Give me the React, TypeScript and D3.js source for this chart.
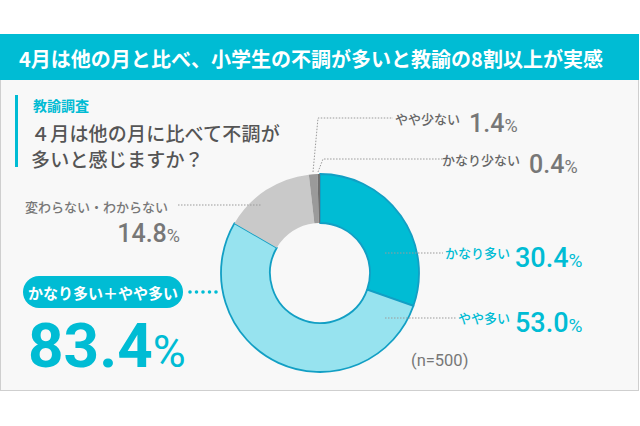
import React from "react";
import * as d3 from "d3";

const categories = ["かなり多い", "やや多い", "変わらない・わからない", "やや少ない", "かなり少ない"];
const values = [30.4, 53.0, 14.8, 1.4, 0.4];
const valueLabels = ["30.4", "53.0", "14.8", "1.4", "0.4"];
const sliceColors = ["#00bcd4", "#97e3ef", "#c9c9c9", "#9a9a9a", "#6e6e6e"];
const sliceStrokes = ["#129fc4", "#129fc4", "none", "none", "none"];
const title = "4月は他の月と比べ、小学生の不調が多いと教諭の8割以上が実感";
const subTitle = "教諭調査";
const questionLines = ["４月は他の月に比べて不調が", "多いと感じますか？"];
const combinedLabel = "かなり多い＋やや多い";
const combinedValue = "83.4";
const sampleNote = "(n=500)";

const JP = "'Noto Sans CJK JP', 'Noto Sans', sans-serif";
const NUM = "Roboto, 'Noto Sans', sans-serif";

export default function App() {
  const cx = 320, cy = 273, rOuter = 99, rInner = 50;
  const pie = d3.pie<number>().sort(null).startAngle(0).endAngle(2 * Math.PI)(values);
  const arc = d3.arc<d3.PieArcDatum<number>>().innerRadius(rInner).outerRadius(rOuter);

  const grayDot = { stroke: "#9a9a9a", strokeWidth: 1, strokeDasharray: "1.5 1.5", fill: "none" } as const;

  return (
    <svg width={640} height={426} style={{ position: "absolute", left: 0, top: 0, background: "#fff" }}>
      {/* frame */}
      <rect x={0.5} y={34.5} width={638} height={356} fill="#f8f8f8" stroke="#cfcfcf" strokeWidth={1} />
      <rect x={0} y={34} width={639} height={46} fill="#00bcd4" />
      <text x={19} y={57.5} dominantBaseline="central" fill="#fff" fontFamily={JP} fontWeight={700} fontSize={20.5} textLength={584} lengthAdjust="spacingAndGlyphs">{title}</text>

      {/* question */}
      <rect x={15} y={95} width={3} height={72} fill="#00bcd4" />
      <text x={33} y={105} dominantBaseline="central" fill="#00bcd4" fontFamily={JP} fontWeight={700} fontSize={14}>{subTitle}</text>
      {questionLines.map((l, i) => (
        <text key={i} x={31} y={132 + i * 26} dominantBaseline="central" fill="#555" fontFamily={JP} fontWeight={500} fontSize={19} letterSpacing={0.2}>{l}</text>
      ))}

      {/* donut */}
      <g transform={`translate(${cx},${cy})`}>
        {pie.map((d, i) => (
          <path key={i} d={arc(d) || ""} fill={sliceColors[i]} stroke={sliceStrokes[i]} strokeWidth={1.8} strokeLinejoin="round" />
        ))}
      </g>

      {/* leader lines */}
      <line x1={385} y1={253} x2={443} y2={253} {...grayDot} />
      <line x1={385} y1={318} x2={456} y2={318} {...grayDot} />
      <line x1={178} y1={205} x2={262} y2={205} {...grayDot} />
      <polyline points="313,172 318,118 393,118" {...grayDot} />
      <polyline points="318,172 323,159 443,159" {...grayDot} />
      <line x1={190} y1={292} x2={222} y2={292} stroke="#00bcd4" strokeWidth={3.6} strokeLinecap="round" strokeDasharray="0 6.5" />

      {/* labels right */}
      <text x={510} y={258} textAnchor="end" fill="#00bcd4" fontFamily={JP} fontWeight={500} fontSize={13}>{categories[0]}</text>
      <text x={515} y={267} fill="#00bcd4" fontFamily={NUM} fontWeight={500}>
        <tspan fontSize={27}>{valueLabels[0]}</tspan><tspan fontSize={19} fontWeight={400}>%</tspan>
      </text>
      <text x={510} y={323} textAnchor="end" fill="#00bcd4" fontFamily={JP} fontWeight={500} fontSize={13}>{categories[1]}</text>
      <text x={515} y={332} fill="#00bcd4" fontFamily={NUM} fontWeight={500}>
        <tspan fontSize={27}>{valueLabels[1]}</tspan><tspan fontSize={19} fontWeight={400}>%</tspan>
      </text>

      <text x={460} y={124} textAnchor="end" fill="#666" fontFamily={JP} fontWeight={500} fontSize={13}>{categories[3]}</text>
      <text x={469} y={132} fill="#777" fontFamily={NUM} fontWeight={500}>
        <tspan fontSize={25}>{valueLabels[3]}</tspan><tspan fontSize={18} fontWeight={400}>%</tspan>
      </text>
      <text x={520} y={165} textAnchor="end" fill="#666" fontFamily={JP} fontWeight={500} fontSize={13}>{categories[4]}</text>
      <text x={529} y={173} fill="#777" fontFamily={NUM} fontWeight={500}>
        <tspan fontSize={25}>{valueLabels[4]}</tspan><tspan fontSize={18} fontWeight={400}>%</tspan>
      </text>

      {/* labels left */}
      <text x={168} y={212} textAnchor="end" fill="#777" fontFamily={JP} fontWeight={500} fontSize={13}>{categories[2]}</text>
      <text x={180} y={242} textAnchor="end" fill="#777" fontFamily={NUM} fontWeight={500}>
        <tspan fontSize={25}>{valueLabels[2]}</tspan><tspan fontSize={18} fontWeight={400}>%</tspan>
      </text>

      {/* combined */}
      <rect x={23} y={276} width={160} height={32} rx={16} fill="#00bcd4" />
      <text x={103} y={292} textAnchor="middle" dominantBaseline="central" fill="#fff" fontFamily={JP} fontWeight={700} fontSize={15}>{combinedLabel}</text>
      <text x={28} y={367} fill="#00bcd4" fontFamily={NUM} fontWeight={700}>
        <tspan fontSize={62}>{combinedValue}</tspan><tspan fontSize={45} fontWeight={400}>%</tspan>
      </text>

      <text x={411} y={366} fill="#777" fontFamily={NUM} fontSize={16.5}>{sampleNote}</text>
    </svg>
  );
}
